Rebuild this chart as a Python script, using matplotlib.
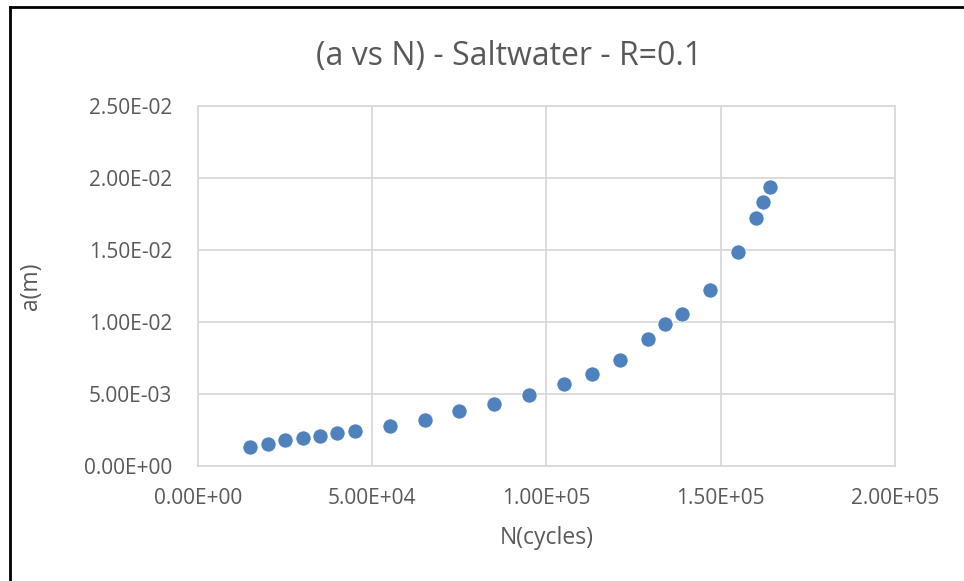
import matplotlib.pyplot as plt
from matplotlib.ticker import FuncFormatter

# data
N_cycles = [1.5e4, 2.0e4, 2.5e4, 3.0e4, 3.5e4, 4.0e4, 4.5e4, 5.5e4, 6.5e4,
            7.5e4, 8.5e4, 9.5e4, 1.05e5, 1.13e5, 1.21e5, 1.29e5, 1.34e5,
            1.39e5, 1.47e5, 1.55e5, 1.60e5, 1.62e5, 1.64e5]
a_m = [1.30e-3, 1.51e-3, 1.76e-3, 1.95e-3, 2.09e-3, 2.28e-3, 2.42e-3,
       2.74e-3, 3.16e-3, 3.81e-3, 4.32e-3, 4.94e-3, 5.71e-3, 6.36e-3,
       7.36e-3, 8.82e-3, 9.87e-3, 1.056e-2, 1.224e-2, 1.486e-2, 1.718e-2,
       1.834e-2, 1.934e-2]

x_ticks = [0, 5e4, 1e5, 1.5e5, 2e5]
y_ticks = [0, 5e-3, 1e-2, 1.5e-2, 2e-2, 2.5e-2]

plt.rcParams['font.family'] = ['Open Sans', 'DejaVu Sans']
txt = '#595959'
grid = '#D9D9D9'


def sci(v, pos):
    return '%.2E' % v


fig = plt.figure(figsize=(9.64, 5.81), dpi=100)
ax = fig.add_axes([0.2054, 0.1985, 0.7230, 0.6191])

ax.scatter(N_cycles, a_m, s=120, color='#4F81BD', edgecolors='white',
           linewidths=0.6, zorder=3)

ax.set_xlim(0, 2e5)
ax.set_ylim(0, 2.5e-2)
ax.set_xticks(x_ticks)
ax.set_yticks(y_ticks)
ax.xaxis.set_major_formatter(FuncFormatter(sci))
ax.yaxis.set_major_formatter(FuncFormatter(sci))
ax.tick_params(length=0, labelsize=15, colors=txt)
ax.tick_params(axis='y', pad=18.5)
ax.tick_params(axis='x', pad=16)
ax.grid(True, color=grid, linewidth=1.3)
ax.set_axisbelow(True)
for sp in ax.spines.values():
    sp.set_color(grid)
    sp.set_linewidth(1.3)

ax.set_xlabel('N(cycles)', fontsize=16.5, color=txt, va='top')
ax.xaxis.set_label_coords(0.5, -0.168)
ax.set_ylabel('a(m)', fontsize=16.5, color=txt)
ax.yaxis.set_label_coords(-0.222, 0.5)
fig.text(0.528, 0.902, '(a vs N) - Saltwater - R=0.1', fontsize=23,
         color=txt, ha='center', va='center')

# outer frame lines (left and top)
fig.add_artist(plt.Line2D([0.0104, 0.0104], [0, 0.988], color='black',
                          linewidth=2, transform=fig.transFigure))
fig.add_artist(plt.Line2D([0.0104, 1], [0.988, 0.988], color='black',
                          linewidth=2, transform=fig.transFigure))

fig.savefig('out.png', dpi=100)
